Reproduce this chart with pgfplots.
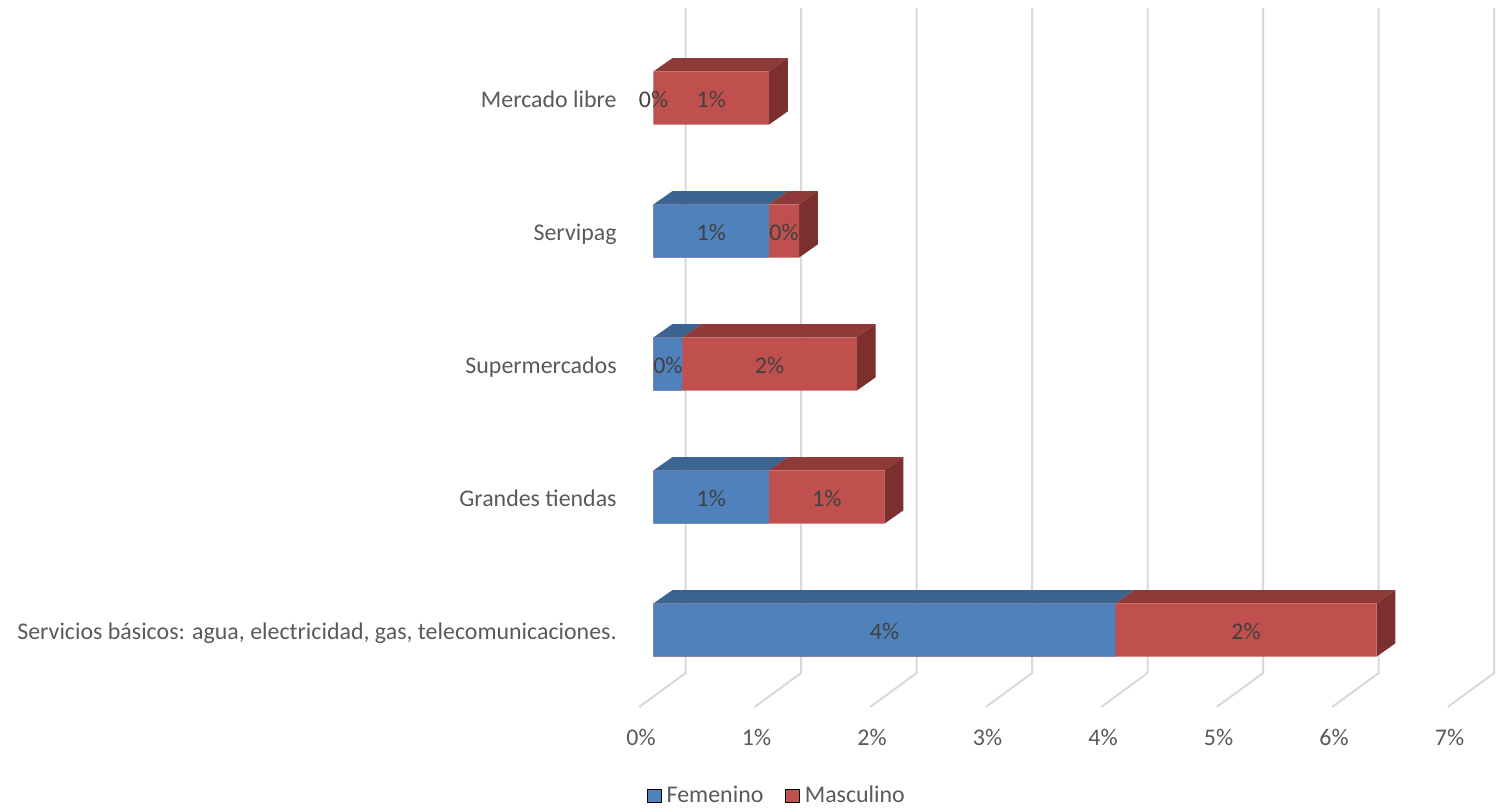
\documentclass[border=0pt]{standalone}
\usepackage{pgfplots}
\pgfplotsset{compat=1.18}
\usepackage{pgfplotstable}
\usepackage{fontspec}
\setmainfont{Carlito}
\definecolor{mblue}{HTML}{4F81BD}
\definecolor{mbluetop}{HTML}{3C6491}
\definecolor{mred}{HTML}{C0504D}
\definecolor{mredtop}{HTML}{8E3A38}
\definecolor{mredside}{HTML}{7B302E}
\definecolor{gridc}{HTML}{D9D9D9}
\definecolor{txt}{HTML}{595959}
\definecolor{dlab}{HTML}{404040}
\newcommand{\chartfont}{\fontsize{11.95}{14}\selectfont}

\pgfplotstableread{
pos F M
0 4.00 2.26
1 1.00 1.00
2 0.25 1.51
3 1.00 0.26
4 0.00 1.00
}\datatable

\begin{document}
\begin{tikzpicture}
\begin{axis}[
  x=57.75pt, y=66.5pt,
  xmin=0, xmax=7, ymin=-0.5, ymax=4.5,
  clip=false,
  axis line style={draw=none},
  major tick length=0pt,
  /pgf/number format/assume math mode=true,
  xtick={0,1,2,3,4,5,6,7},
  xticklabels={0\%,1\%,2\%,3\%,4\%,5\%,6\%,7\%},
  xticklabel style={anchor=base, inner sep=0pt, xshift=-6.25pt, yshift=-24.25pt, text=txt, font=\chartfont},
  ytick={0,1,2,3,4},
  yticklabels={{Servicios básicos: agua, electricidad, gas, telecomunicaciones.},Grandes tiendas,Supermercados,Servipag,Mercado libre},
  yticklabel style={anchor=base east, inner sep=0pt, xshift=-18.25pt, yshift=-4.9pt, text=txt, font=\chartfont},
  legend columns=2,
  legend style={at={(axis cs:1.07,-1.248)}, anchor=center, draw=none, fill=none, text=txt, font=\chartfont,
    /tikz/every even column/.append style={column sep=10pt},
    nodes={inner sep=1pt}},
  legend image code/.code={\fill[#1] (0pt,-3.35pt) rectangle (6.7pt,3.35pt); \path[draw=none,fill=none] (8.5pt,0pt) circle (0pt);},
]
% bounding box of the whole picture
\path (axis cs:-5.658,4.737) rectangle (axis cs:7.3117,-1.368);

% back gridlines with floor diagonals
\addplot[gridc, line width=1pt, forget plot] coordinates {(0.279,4.677) (0.279,-0.323) (-0.123,-0.578)};
\addplot[gridc, line width=1pt, forget plot] coordinates {(1.279,4.677) (1.279,-0.323) (0.877,-0.578)};
\addplot[gridc, line width=1pt, forget plot] coordinates {(2.279,4.677) (2.279,-0.323) (1.877,-0.578)};
\addplot[gridc, line width=1pt, forget plot] coordinates {(3.279,4.677) (3.279,-0.323) (2.877,-0.578)};
\addplot[gridc, line width=1pt, forget plot] coordinates {(4.279,4.677) (4.279,-0.323) (3.877,-0.578)};
\addplot[gridc, line width=1pt, forget plot] coordinates {(5.279,4.677) (5.279,-0.323) (4.877,-0.578)};
\addplot[gridc, line width=1pt, forget plot] coordinates {(6.279,4.677) (6.279,-0.323) (5.877,-0.578)};
\addplot[gridc, line width=1pt, forget plot] coordinates {(7.279,4.677) (7.279,-0.323) (6.877,-0.578)};

% 3D faces: Servicios basicos
\addplot[fill=mbluetop, draw=none, forget plot] coordinates {(0,0.2) (4,0.2) (4.164,0.3) (0.164,0.3)} -- cycle;
\addplot[fill=mredtop, draw=none, forget plot] coordinates {(4,0.2) (6.26,0.2) (6.424,0.3) (4.164,0.3)} -- cycle;
\addplot[fill=mredside, draw=none, forget plot] coordinates {(6.26,-0.2) (6.26,0.2) (6.424,0.3) (6.424,-0.1)} -- cycle;
% Grandes tiendas
\addplot[fill=mbluetop, draw=none, forget plot] coordinates {(0,1.2) (1,1.2) (1.164,1.3) (0.164,1.3)} -- cycle;
\addplot[fill=mredtop, draw=none, forget plot] coordinates {(1,1.2) (2,1.2) (2.164,1.3) (1.164,1.3)} -- cycle;
\addplot[fill=mredside, draw=none, forget plot] coordinates {(2,0.8) (2,1.2) (2.164,1.3) (2.164,0.9)} -- cycle;
% Supermercados
\addplot[fill=mbluetop, draw=none, forget plot] coordinates {(0,2.2) (0.25,2.2) (0.414,2.3) (0.164,2.3)} -- cycle;
\addplot[fill=mredtop, draw=none, forget plot] coordinates {(0.25,2.2) (1.76,2.2) (1.924,2.3) (0.414,2.3)} -- cycle;
\addplot[fill=mredside, draw=none, forget plot] coordinates {(1.76,1.8) (1.76,2.2) (1.924,2.3) (1.924,1.9)} -- cycle;
% Servipag
\addplot[fill=mbluetop, draw=none, forget plot] coordinates {(0,3.2) (1,3.2) (1.164,3.3) (0.164,3.3)} -- cycle;
\addplot[fill=mredtop, draw=none, forget plot] coordinates {(1,3.2) (1.26,3.2) (1.424,3.3) (1.164,3.3)} -- cycle;
\addplot[fill=mredside, draw=none, forget plot] coordinates {(1.26,2.8) (1.26,3.2) (1.424,3.3) (1.424,2.9)} -- cycle;
% Mercado libre
\addplot[fill=mredtop, draw=none, forget plot] coordinates {(0,4.2) (1,4.2) (1.164,4.3) (0.164,4.3)} -- cycle;
\addplot[fill=mredside, draw=none, forget plot] coordinates {(1,3.8) (1,4.2) (1.164,4.3) (1.164,3.9)} -- cycle;

% front faces
\addplot[xbar, bar width=26.6pt, bar shift=0pt, fill=mred, draw=none, forget plot]
  table[x expr=\thisrow{F}+\thisrow{M}, y=pos] \datatable;
\addplot[xbar, bar width=26.6pt, bar shift=0pt, fill=mblue, draw=none, forget plot]
  table[x=F, y=pos] \datatable;

% data labels
\addplot[draw=none, mark=none, forget plot, point meta=explicit,
  nodes near coords={\pgfmathprintnumber[fixed,precision=0]{\pgfplotspointmeta}\%},
  every node near coord/.style={anchor=base, inner sep=0pt, yshift=-4.5pt, text=dlab, font=\chartfont}]
  table[x expr=\thisrow{F}/2, y=pos, meta=F] \datatable;
\addplot[draw=none, mark=none, forget plot, point meta=explicit,
  nodes near coords={\pgfmathprintnumber[fixed,precision=0]{\pgfplotspointmeta}\%},
  every node near coord/.style={anchor=base, inner sep=0pt, yshift=-4.5pt, text=dlab, font=\chartfont}]
  table[x expr=\thisrow{F}+\thisrow{M}/2, y=pos, meta=M] \datatable;

\addlegendimage{fill=mblue}
\addlegendentry{Femenino}
\addlegendimage{fill=mred}
\addlegendentry{Masculino}
\end{axis}
\end{tikzpicture}
\end{document}
